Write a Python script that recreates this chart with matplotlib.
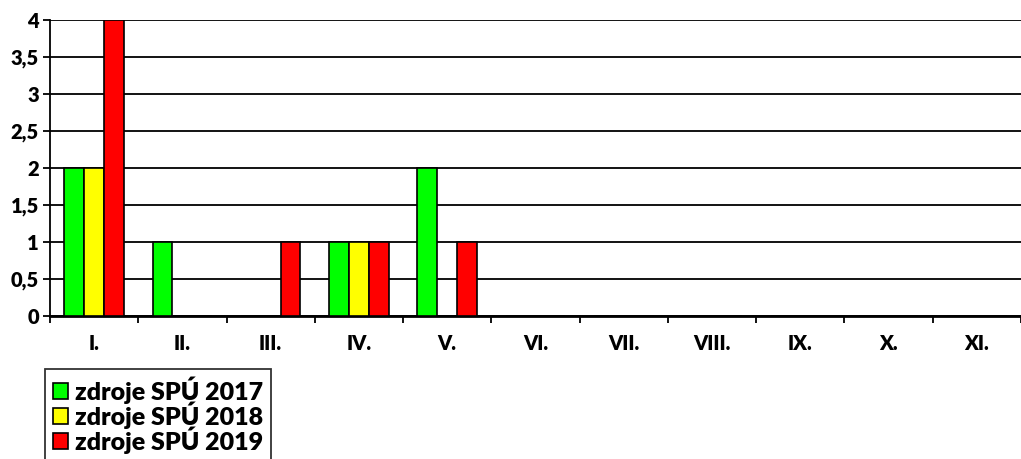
import matplotlib
matplotlib.use("Agg")
import matplotlib.pyplot as plt
import numpy as np

categories = ["I.", "II.", "III.", "IV.", "V.", "VI.", "VII.", "VIII.", "IX.", "X.", "XI."]
s2017 = [2, 1, 0, 1, 2, 0, 0, 0, 0, 0, 0]
s2018 = [2, 0, 0, 1, 0, 0, 0, 0, 0, 0, 0]
s2019 = [4, 0, 1, 1, 1, 0, 0, 0, 0, 0, 0]
series_names = ["zdroje SPÚ 2017", "zdroje SPÚ 2018", "zdroje SPÚ 2019"]
colors = ["#00ff00", "#ffff00", "#ff0000"]
yticks = [0, 0.5, 1, 1.5, 2, 2.5, 3, 3.5, 4]
ytick_labels = ["0", "0,5", "1", "1,5", "2", "2,5", "3", "3,5", "4"]

plt.rcParams['font.family'] = ['Lato', 'DejaVu Sans']
plt.rcParams['font.weight'] = 'heavy'

W, H = 1021, 459
fig = plt.figure(figsize=(W/100, H/100), dpi=100)
ax = fig.add_axes([50/W, 1-316/H, (1021-50)/W, (316-20)/H])

x = np.arange(len(categories))
bw = 0.225
for i, (vals, c, name) in enumerate(zip([s2017, s2018, s2019], colors, series_names)):
    ax.bar(x + (i-1)*bw, vals, width=bw, color=c, edgecolor='black', linewidth=1.2,
           label=name, zorder=3)

ax.set_xlim(-0.5, len(categories)-0.5)
ax.set_ylim(0, 4)
ax.set_yticks(yticks)
ax.set_yticklabels(ytick_labels, fontsize=14.5, fontweight='heavy')
ax.yaxis.grid(True, color='black', linewidth=1.3, zorder=0)
ax.set_axisbelow(True)
ax.set_xticks(x)
ax.set_xticklabels(categories, fontsize=14.5, fontweight='heavy')
ax.set_xticks(np.arange(len(categories)+1)-0.5, minor=True)
ax.tick_params(axis='x', which='major', length=0, pad=13)
ax.tick_params(axis='x', which='minor', length=5, width=1.3, direction='out')
ax.tick_params(axis='y', length=5, width=1.3, direction='out', pad=3)
for s in ['top', 'right']:
    ax.spines[s].set_visible(False)
ax.spines['left'].set_linewidth(1.3)
ax.spines['bottom'].set_linewidth(2)

leg = fig.legend(loc='upper left', bbox_to_anchor=(45/W, 1-369/H), fontsize=18,
                 frameon=True, fancybox=False, edgecolor='black', handlelength=0.6,
                 handleheight=0.6, handletextpad=0.3, labelspacing=-0.1,
                 borderpad=0.3, borderaxespad=0)
leg.get_frame().set_linewidth(1.3)
for t in leg.get_texts():
    t.set_fontweight('heavy')

fig.savefig("out.png", dpi=100)
